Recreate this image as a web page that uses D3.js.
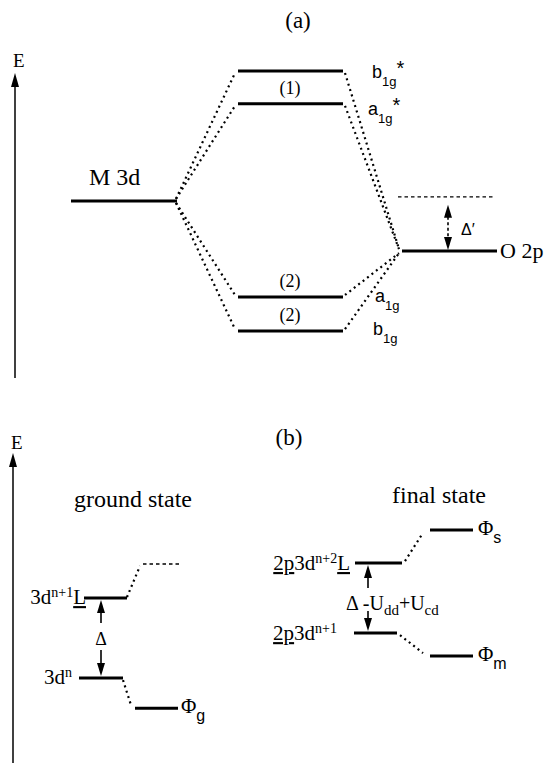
<!DOCTYPE html>
<html>
<head>
<meta charset="utf-8">
<script src="https://cdn.jsdelivr.net/npm/d3@7"></script>
<style>
  html, body { margin: 0; padding: 0; background: #fff; }
  svg { display: block; }
</style>
</head>
<body>
<div id="chart"></div>
<script>
// ---------- Panel (a): MO splitting (energies in arbitrary units) ----------
const moNames      = ["b1g*", "a1g*", "a1g", "b1g"];
const moEnergy     = [10.0, 8.94, 2.71, 1.61];
const moOccupancy  = ["", "(1)", "(2)", "(2)"];
const metalLabel   = "M 3d";
const metalEnergy  = 5.81;
const oxygenLabel  = "O 2p";
const oxygenEnergy = 4.19;
const deltaPrimeRef = 5.94;   // dashed reference level used for Δ'

// ---------- Panel (b): configurations and mixed states ----------
// label parts: [text, role]  role: sup / sub / u (underlined)
const groundLabels = [
  [["3d"], ["n", "sup"]],
  [["3d"], ["n+1", "sup"], ["L", "u"]]
];
const groundEnergy = [2.74, 5.32];
const groundMixedLabel = [["Φ"], ["g", "sub"]];
const groundMixedEnergy = [1.77, 6.42];      // Φg and the upper (dashed) branch

const finalLabels = [
  [["2p", "u"], ["3d"], ["n+1", "sup"]],
  [["2p", "u"], ["3d"], ["n+2", "sup"], ["L", "u"]]
];
const finalEnergy = [4.19, 6.45];
const finalMixedLabels = [
  [["Φ"], ["m", "sub"]],
  [["Φ"], ["s", "sub"]]
];
const finalMixedEnergy = [3.45, 7.52];

const gapLabelGround = [["Δ"]];
const gapLabelFinal  = [["Δ"], [" -U"], ["dd", "sub"], ["+U"], ["cd", "sub"]];

// ---------- drawing ----------
const W = 550, H = 763;
const SERIF = "'Liberation Serif', 'Times New Roman', serif";
const SANS  = "'Liberation Sans', Arial, sans-serif";

const svg = d3.select("#chart").append("svg")
  .attr("width", W).attr("height", H)
  .attr("viewBox", `0 0 ${W} ${H}`);
svg.append("rect").attr("width", W).attr("height", H).attr("fill", "#fff");

const yA = d3.scaleLinear().domain([0, 10]).range([381, 71]);
const yB = d3.scaleLinear().domain([0, 10]).range([763, 453]);

const LEVEL_W = 3;

function level(g, x0, x1, y, dashed) {
  const l = g.append("line")
    .attr("x1", x0).attr("x2", x1).attr("y1", y).attr("y2", y)
    .attr("stroke", "#000");
  if (dashed) l.attr("stroke-width", 1.3).attr("stroke-dasharray", "3.5,3");
  else l.attr("stroke-width", LEVEL_W);
  return l;
}

function dotted(g, x0, y0, x1, y1) {
  g.append("line")
    .attr("x1", x0).attr("y1", y0).attr("x2", x1).attr("y2", y1)
    .attr("stroke", "#000").attr("stroke-width", 2.2)
    .attr("stroke-dasharray", "2,3.6");
}

function head(g, x, tipY, dir, w, h) {
  // dir = 1: points up (base below tip); dir = -1: points down
  g.append("path")
    .attr("d", `M${x},${tipY} L${x - w / 2},${tipY + dir * h} L${x + w / 2},${tipY + dir * h} Z`)
    .attr("fill", "#000");
}

function stem(g, x, y0, y1, dash) {
  const l = g.append("line").attr("x1", x).attr("x2", x).attr("y1", y0).attr("y2", y1)
    .attr("stroke", "#000").attr("stroke-width", 1.6);
  if (dash) l.attr("stroke-dasharray", dash);
}

function rich(g, x, y, parts, o) {
  const t = g.append("text")
    .attr("x", x).attr("y", y)
    .attr("font-family", o.family)
    .attr("font-size", o.size)
    .attr("text-anchor", o.anchor || "start")
    .attr("fill", "#000");
  let cur = 0;
  parts.forEach(([s, role]) => {
    let target = 0, size = o.size, fam = null;
    if (role === "sup") { target = o.supDy; size = o.supSize; }
    else if (role === "sub") { target = o.subDy; size = o.subSize; fam = o.subFamily || null; }
    const sp = t.append("tspan").attr("dy", target - cur).attr("font-size", size).text(s);
    if (fam) sp.attr("font-family", fam);
    if (role === "u") sp.attr("text-decoration", "underline");
    cur = target;
  });
  return t;
}

function axis(g, x, yBottom, yTip, label, labelY) {
  g.append("line").attr("x1", x).attr("x2", x).attr("y1", yBottom).attr("y2", yTip + 10)
    .attr("stroke", "#000").attr("stroke-width", 1.5);
  head(g, x, yTip, 1, 8, 14);
  g.append("text").attr("x", x - 2).attr("y", labelY)
    .attr("font-family", SERIF).attr("font-size", 19).text(label);
}

// ================= Panel (a) =================
const gA = svg.append("g");
gA.append("text").attr("x", 298).attr("y", 28).attr("text-anchor", "middle")
  .attr("font-family", SERIF).attr("font-size", 23).text("(a)");
axis(gA, 15, 378, 73, "E", 67);

const metalX = [71, 177], moX = [238, 343], oxyX = [402, 497], refX = [398, 493];

// metal level
level(gA, metalX[0], metalX[1], yA(metalEnergy));
gA.append("text").attr("x", 89).attr("y", yA(metalEnergy) - 16)
  .attr("font-family", SERIF).attr("font-size", 24).text(metalLabel);

// oxygen level + dashed reference
level(gA, oxyX[0], oxyX[1], yA(oxygenEnergy));
level(gA, refX[0], refX[1], yA(deltaPrimeRef), true);
gA.append("text").attr("x", 500).attr("y", yA(oxygenEnergy) + 7)
  .attr("font-family", SERIF).attr("font-size", 22).text(oxygenLabel);

// Δ' double arrow
const dpx = 448;
head(gA, dpx, yA(deltaPrimeRef) + 8, 1, 8, 13);
head(gA, dpx, yA(oxygenEnergy) - 1, -1, 8, 13);
stem(gA, dpx, yA(deltaPrimeRef) + 20, yA(oxygenEnergy) - 13, "3,2.5");
gA.append("text").attr("x", 461).attr("y", 235)
  .attr("font-family", SANS).attr("font-size", 16).text("Δ\u2032");

// MO levels, connectors and labels
moNames.forEach((name, i) => {
  const y = yA(moEnergy[i]);
  level(gA, moX[0], moX[1], y);
  const upM = moEnergy[i] > metalEnergy, upO = moEnergy[i] > oxygenEnergy;
  dotted(gA, metalX[1] - 1, yA(metalEnergy) + (upM ? -2 : 2), moX[0] - 3, y + (upM ? 2 : -2));
  dotted(gA, moX[1] + 2, y + (upO ? 2 : -2), oxyX[0] - 3, yA(oxygenEnergy) + (upO ? -2 : 2));

  const m = name.match(/^([ab])(1g)(\*?)$/);
  const parts = [[m[1]], [m[2], "sub"]];
  if (m[3]) parts.push([m[3], "sup"]);
  const lx = [372, 368, 375, 373][i];
  const ly = y + [7, 11, 5, 4][i];
  rich(gA, lx, ly, parts, {
    family: SANS, size: 18, subSize: 13, subDy: 8, supSize: 20, supDy: -3
  });

  if (moOccupancy[i]) {
    gA.append("text").attr("x", 290).attr("y", y - 10).attr("text-anchor", "middle")
      .attr("font-family", SERIF).attr("font-size", 18).text(moOccupancy[i]);
  }
});

// ================= Panel (b) =================
const gB = svg.append("g");
gB.append("text").attr("x", 289).attr("y", 445).attr("text-anchor", "middle")
  .attr("font-family", SERIF).attr("font-size", 23).text("(b)");
axis(gB, 13, 763, 453, "E", 449);

gB.append("text").attr("x", 133).attr("y", 507).attr("text-anchor", "middle")
  .attr("font-family", SERIF).attr("font-size", 24).text("ground state");
gB.append("text").attr("x", 439).attr("y", 503).attr("text-anchor", "middle")
  .attr("font-family", SERIF).attr("font-size", 24).text("final state");

const cfgOpts = { family: SERIF, size: 21, supSize: 14, supDy: -7, anchor: "end" };
const phiOpts = { family: SERIF, size: 21, subSize: 16, subDy: 8, subFamily: SANS };

// ground state
const gCfgX = [[79, 123], [84, 127]];
const gLabelEnd = [72, 86];
groundLabels.forEach((parts, i) => {
  const y = yB(groundEnergy[i]);
  level(gB, gCfgX[i][0], gCfgX[i][1], y);
  rich(gB, gLabelEnd[i], y + 6, parts, cfgOpts);
});
const yPhiG = yB(groundMixedEnergy[0]);
const yGUp = yB(groundMixedEnergy[1]);
level(gB, 135, 178, yPhiG);
level(gB, 143, 180, yGUp, true);
rich(gB, 181, yPhiG + 5, groundMixedLabel, phiOpts);
dotted(gB, 123, yB(groundEnergy[0]) + 2, 131, yPhiG - 3);
dotted(gB, 127, yB(groundEnergy[1]) - 1, 140, yGUp + 2);

// Δ arrow (ground)
const gax = 101;
const yG1 = yB(groundEnergy[1]), yG0 = yB(groundEnergy[0]);
head(gB, gax, yG1 + 2, 1, 8, 13);
stem(gB, gax, yG1 + 12, yG1 + 25);
rich(gB, gax, 645, gapLabelGround, { family: SERIF, size: 18, anchor: "middle" });
stem(gB, gax, 650, yG0 - 14);
head(gB, gax, yG0 - 2, -1, 8, 13);

// final state
const fCfgX = [[354, 397], [355, 402]];
const fLabelEnd = [337, 350];
finalLabels.forEach((parts, i) => {
  const y = yB(finalEnergy[i]);
  level(gB, fCfgX[i][0], fCfgX[i][1], y);
  rich(gB, fLabelEnd[i], y + 7, parts, cfgOpts);
});
finalMixedLabels.forEach((parts, i) => {
  const y = yB(finalMixedEnergy[i]);
  level(gB, 430, 473, y);
  rich(gB, 478, y + 5, parts, phiOpts);
});
dotted(gB, 400, yB(finalEnergy[0]) + 2, 423, yB(finalMixedEnergy[0]) - 3);
dotted(gB, 405, yB(finalEnergy[1]) - 2, 423, yB(finalMixedEnergy[1]) + 3);

// Δ - Udd + Ucd arrow (final)
const fax = 368;
const yF1 = yB(finalEnergy[1]), yF0 = yB(finalEnergy[0]);
head(gB, fax, yF1 + 2, 1, 8, 13);
stem(gB, fax, yF1 + 12, yF1 + 25);
rich(gB, 346, 610, gapLabelFinal, { family: SERIF, size: 20, subSize: 15, subDy: 5 });
stem(gB, fax, 611, yF0 - 14);
head(gB, fax, yF0 - 2, -1, 8, 13);
</script>
</body>
</html>
